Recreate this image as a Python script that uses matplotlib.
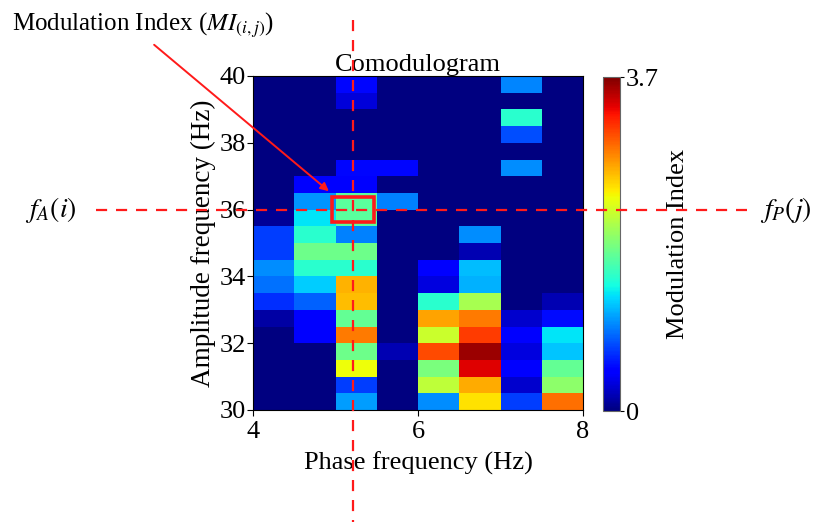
import numpy as np
import matplotlib
matplotlib.use("Agg")
import matplotlib.pyplot as plt
from matplotlib.lines import Line2D
from matplotlib.patches import Rectangle, FancyArrowPatch

# ---- data ----
phase_edges = np.arange(4.0, 8.01, 0.5)      # Hz
amp_edges = np.arange(30.0, 40.01, 0.5)      # Hz
# rows listed from top (39.5-40 Hz) to bottom (30-30.5 Hz); columns 4-4.5 ... 7.5-8 Hz
mi_rows_top_down = [
    [0.00, 0.00, 0.48, 0.00, 0.00, 0.00, 0.95, 0.00],
    [0.00, 0.00, 0.30, 0.00, 0.00, 0.00, 0.00, 0.00],
    [0.00, 0.00, 0.00, 0.00, 0.00, 0.00, 1.48, 0.00],
    [0.00, 0.00, 0.00, 0.00, 0.00, 0.00, 0.75, 0.00],
    [0.00, 0.00, 0.00, 0.00, 0.00, 0.00, 0.00, 0.00],
    [0.00, 0.00, 0.48, 0.48, 0.00, 0.00, 0.98, 0.00],
    [0.00, 0.45, 0.45, 0.00, 0.00, 0.00, 0.00, 0.00],
    [0.00, 1.00, 1.70, 0.93, 0.00, 0.00, 0.00, 0.00],
    [0.08, 1.30, 1.70, 0.00, 0.00, 0.00, 0.00, 0.00],
    [0.69, 1.48, 0.93, 0.00, 0.00, 0.98, 0.00, 0.00],
    [0.69, 1.78, 1.78, 0.00, 0.00, 0.16, 0.00, 0.00],
    [0.98, 1.48, 1.48, 0.00, 0.45, 1.15, 0.00, 0.00],
    [0.87, 1.20, 2.67, 0.00, 0.31, 1.10, 0.00, 0.00],
    [0.63, 0.81, 2.63, 0.00, 1.48, 2.05, 0.00, 0.16],
    [0.13, 0.45, 1.74, 0.00, 2.73, 2.89, 0.26, 0.50],
    [0.00, 0.45, 2.89, 0.00, 2.20, 3.13, 0.45, 1.30],
    [0.00, 0.00, 1.78, 0.16, 3.07, 3.60, 0.31, 1.18],
    [0.00, 0.00, 2.37, 0.00, 1.84, 3.39, 0.45, 1.74],
    [0.00, 0.00, 0.69, 0.00, 2.15, 2.70, 0.26, 1.93],
    [0.00, 0.00, 1.04, 0.00, 0.98, 2.48, 0.69, 2.92],
]
vmin, vmax = 0.0, 3.7
x_ticks = [4, 6, 8]
y_ticks = [30, 32, 34, 36, 38, 40]
cbar_ticks = [0, 3.7]
cbar_ticklabels = ["0", "3.7"]
sel_phase = 5.21   # marked f_P(j)
sel_amp = 36.0     # marked f_A(i)

mi = np.array(mi_rows_top_down)[::-1]

plt.rcParams['font.family'] = ['Liberation Serif', 'DejaVu Serif']
plt.rcParams['mathtext.fontset'] = 'stix'

W, H = 814, 523
fig = plt.figure(figsize=(W / 100, H / 100), dpi=100)

def fx(px):
    return px / W

def fy(py):
    return 1 - py / H

FS = 19
ax = fig.add_axes([fx(253), fy(410), fx(583) - fx(253), fy(76) - fy(410)])
mesh = ax.pcolormesh(phase_edges, amp_edges, mi, cmap='jet', vmin=vmin, vmax=vmax)
ax.set_xlim(phase_edges[0], phase_edges[-1])
ax.set_ylim(amp_edges[0], amp_edges[-1])
ax.set_xticks(x_ticks)
ax.set_yticks(y_ticks)
ax.tick_params(direction='out', length=4, labelsize=FS)
ax.tick_params(axis='y', pad=1)
ax.tick_params(axis='x', pad=4)
ax.set_title("Comodulogram", fontsize=FS, pad=2)
ax.set_xlabel("Phase frequency (Hz)", fontsize=FS, labelpad=6)
ax.set_ylabel("Amplitude frequency (Hz)", fontsize=FS + 0.5, labelpad=3)

cax = fig.add_axes([fx(603), fy(411), fx(620) - fx(603), fy(77) - fy(411)])
cb = fig.colorbar(mesh, cax=cax)
cb.set_ticks(cbar_ticks)
cb.set_ticklabels(cbar_ticklabels)
cb.ax.tick_params(labelsize=FS, length=3, pad=1)
cb.outline.set_edgecolor('#666666')
cb.set_label("Modulation Index", fontsize=FS, labelpad=6)

# ---- overlay annotations ----
red = '#ff1a1a'
dash = (0, (5, 4))
sel_fig = fig.transFigure.inverted().transform(ax.transData.transform((sel_phase, sel_amp)))
fig.add_artist(Line2D([sel_fig[0], sel_fig[0]], [fy(20), fy(522)], color=red,
                      lw=1.6, linestyle=dash, transform=fig.transFigure))
fig.add_artist(Line2D([fx(96), fx(747)], [sel_fig[1], sel_fig[1]], color=red,
                      lw=1.6, linestyle=dash, transform=fig.transFigure))

fig.text(fx(51), sel_fig[1], r"$f_A(i)$", fontsize=20, ha='center', va='center')
fig.text(fx(786), sel_fig[1], r"$f_P(j)$", fontsize=20, ha='center', va='center')

# selected cell box
ax.add_patch(Rectangle((4.96, 35.63), 0.51, 0.76, fill=False, edgecolor=red,
                       lw=2.6, clip_on=False, zorder=5))

fig.text(fx(12), fy(25), r"Modulation Index ($MI_{(i,j)}$)", fontsize=18,
         ha='left', va='center')
fig.add_artist(FancyArrowPatch(
    (fx(152), fy(43)), (fx(331), fy(193)), transform=fig.transFigure,
    arrowstyle='-|>', mutation_scale=12, color=red, lw=1.4))

fig.savefig("out.png", dpi=100)
